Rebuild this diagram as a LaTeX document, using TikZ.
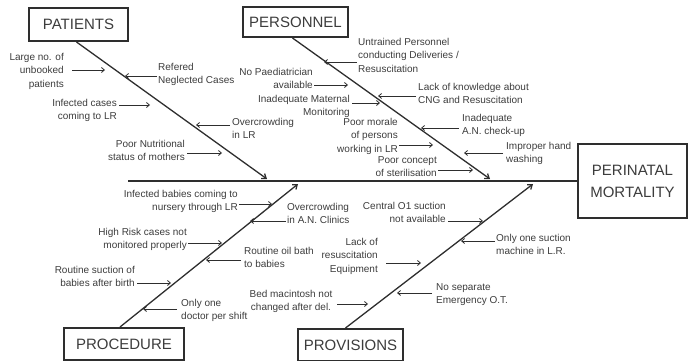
\documentclass[tikz,border=0pt]{standalone}
\usepackage{fontspec}
\setmainfont{Liberation Sans}
\usetikzlibrary{arrows.meta}
\definecolor{ink}{HTML}{2E2E2E}
\definecolor{txt}{HTML}{3C3C3C}
\begin{document}
\begin{tikzpicture}[x=1pt,y=-1pt,
  cat/.style={draw=ink, line width=2pt, fill=white, text=txt, inner sep=0pt, font=\fontsize{15}{22}\selectfont},
  lab/.style={text=txt, inner sep=0pt, font=\fontsize{10}{13.5}\selectfont},
  labL/.style={lab, align=left, anchor=north west},
  labR/.style={lab, align=right, anchor=north east},
  labC/.style={lab, align=center, anchor=north},
  arr/.style={draw=ink, line width=0.8pt, -{Straight Barb[length=3pt,width=5pt]}},
  bone/.style={draw=ink, line width=1.3pt, -{Straight Barb[length=4pt,width=6pt]}},
  spine/.style={draw=ink, line width=1.5pt}]
\useasboundingbox (0,0) rectangle (689,361);
% category boxes
\node[cat, minimum width=99pt, minimum height=33pt] (patients) at (78.5,24.5) {PATIENTS};
\node[cat, minimum width=105pt, minimum height=30pt] (personnel) at (295.5,22) {PERSONNEL};
\node[cat, minimum width=109pt, minimum height=74pt, align=center] (mortality) at (632.5,181) {PERINATAL\\MORTALITY};
\node[cat, minimum width=120pt, minimum height=32pt] (procedure) at (124,344) {PROCEDURE};
\node[cat, minimum width=105pt, minimum height=32pt] (provisions) at (350.5,345) {PROVISIONS};
% spine and bones
\coordinate (spL) at (128,181);
\draw[spine] (spL) -- (mortality.west);
\coordinate (tPat) at (267,179);
\coordinate (tPer) at (490,179);
\coordinate (tPro) at (298,184);
\coordinate (tPrv) at (533,184);
\draw[bone] ([xshift=-2pt]patients.south) -- (tPat);
\draw[bone] ([xshift=-3pt]personnel.south) -- (tPer);
\draw[bone] ([xshift=-4pt]procedure.north) -- (tPro);
\draw[bone] ([xshift=-5pt]provisions.north) -- (tPrv);
% PATIENTS causes
\node[labR] (l1) at (64,53) {Large no. of\\unbooked\\patients};
\coordinate (l1a) at (72,70); \coordinate (l1b) at (105,70);
\draw[arr] (l1a) -- (l1b);
\node[labL] (l2) at (158,63) {Refered\\Neglected Cases};
\coordinate (l2a) at (157,76); \coordinate (l2b) at (125,76);
\draw[arr] (l2a) -- (l2b);
\node[labR] (l3) at (117,99) {Infected cases\\coming to LR};
\coordinate (l3a) at (119,105); \coordinate (l3b) at (150,105);
\draw[arr] (l3a) -- (l3b);
\node[labL] (l4) at (232,118) {Overcrowding\\in LR};
\coordinate (l4a) at (230,125); \coordinate (l4b) at (196,125);
\draw[arr] (l4a) -- (l4b);
\node[labR] (l5) at (185,140) {Poor Nutritional\\status of mothers};
\coordinate (l5a) at (187,153); \coordinate (l5b) at (222,153);
\draw[arr] (l5a) -- (l5b);
% PERSONNEL causes
\node[labL] (p1) at (358,38) {Untrained Personnel\\conducting Deliveries /\\Resuscitation};
\coordinate (p1a) at (357,62); \coordinate (p1b) at (324,62);
\draw[arr] (p1a) -- (p1b);
\node[labR] (p2) at (313,68) {No Paediatrician\\available};
\coordinate (p2a) at (314,85); \coordinate (p2b) at (348,85);
\draw[arr] (p2a) -- (p2b);
\node[labL] (p3) at (418,83) {Lack of knowledge about\\CNG and Resuscitation};
\coordinate (p3a) at (416,96); \coordinate (p3b) at (378,96);
\draw[arr] (p3a) -- (p3b);
\node[labR] (p4) at (350,95) {Inadequate Maternal\\Monitoring};
\coordinate (p4a) at (352,103); \coordinate (p4b) at (380,103);
\draw[arr] (p4a) -- (p4b);
\node[labR] (p5) at (398,118) {Poor morale\\of persons\\working in LR};
\coordinate (p5a) at (399,145); \coordinate (p5b) at (433,145);
\draw[arr] (p5a) -- (p5b);
\node[labL] (p6) at (462,114) {Inadequate\\A.N. check-up};
\coordinate (p6a) at (459,128); \coordinate (p6b) at (421,128);
\draw[arr] (p6a) -- (p6b);
\node[labL] (p7) at (506,142) {Improper hand\\washing};
\coordinate (p7a) at (503,153); \coordinate (p7b) at (464,153);
\draw[arr] (p7a) -- (p7b);
\node[labR] (p8) at (437,156) {Poor concept\\of sterilisation};
\coordinate (p8a) at (438,170); \coordinate (p8b) at (473,170);
\draw[arr] (p8a) -- (p8b);
% PROCEDURE causes
\node[labR] (r1) at (238,190) {Infected babies coming to\\nursery through LR};
\coordinate (r1a) at (239,204); \coordinate (r1b) at (272,204);
\draw[arr] (r1a) -- (r1b);
\node[labL] (r2) at (287,203) {Overcrowding\\in A.N. Clinics};
\coordinate (r2a) at (286,221); \coordinate (r2b) at (250,221);
\draw[arr] (r2a) -- (r2b);
\node[labR] (r3) at (187,228) {High Risk cases not\\monitored properly};
\coordinate (r3a) at (188,243); \coordinate (r3b) at (222,243);
\draw[arr] (r3a) -- (r3b);
\node[labL] (r4) at (244,247) {Routine oil bath\\to babies};
\coordinate (r4a) at (241,260); \coordinate (r4b) at (206,260);
\draw[arr] (r4a) -- (r4b);
\node[labR] (r5) at (135,266) {Routine suction of\\babies after birth};
\coordinate (r5a) at (137,283); \coordinate (r5b) at (171,283);
\draw[arr] (r5a) -- (r5b);
\node[labL] (r6) at (181,299) {Only one\\doctor per shift};
\coordinate (r6a) at (177,309); \coordinate (r6b) at (143,309);
\draw[arr] (r6a) -- (r6b);
% PROVISIONS causes
\node[labR] (v1) at (446,202) {Central O1 suction\\not available};
\coordinate (v1a) at (448,221); \coordinate (v1b) at (483,221);
\draw[arr] (v1a) -- (v1b);
\node[labL] (v2) at (496,234) {Only one suction\\machine in L.R.};
\coordinate (v2a) at (495,241); \coordinate (v2b) at (461,241);
\draw[arr] (v2a) -- (v2b);
\node[labR] (v3) at (378,238) {Lack of\\resuscitation\\Equipment};
\coordinate (v3a) at (386,263); \coordinate (v3b) at (421,263);
\draw[arr] (v3a) -- (v3b);
\node[labL] (v4) at (436,283) {No separate\\Emergency O.T.};
\coordinate (v4a) at (432,293); \coordinate (v4b) at (397,293);
\draw[arr] (v4a) -- (v4b);
\node[labC] (v5) at (291,290) {Bed macintosh not\\changed after del.};
\coordinate (v5a) at (337,304); \coordinate (v5b) at (368,304);
\draw[arr] (v5a) -- (v5b);
\end{tikzpicture}
\end{document}
